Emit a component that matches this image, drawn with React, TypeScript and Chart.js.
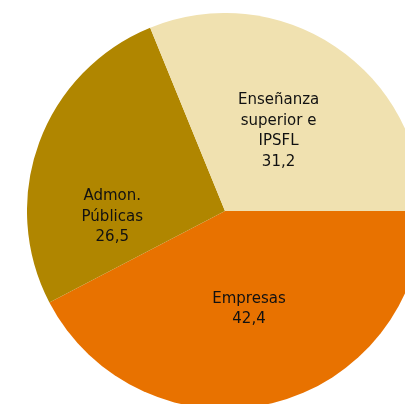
import React, { useEffect, useRef } from "react";
import { Chart, registerables } from "chart.js";

Chart.register(...registerables);

const categories: string[][] = [["Empresas"], ["Admon.", "Públicas"], ["Enseñanza", "superior e", "IPSFL"]];
const values: number[] = [42.4, 26.5, 31.2];
const valueLabels: string[] = ["42,4", "26,5", "31,2"];
const colors: string[] = ["#E87200", "#B08600", "#F0E1B0"];
const labelAngleShift: number[] = [0, -23, 0];
const labelRadiusFactor: number[] = [0.51, 0.57, 0.485];

const labelPlugin = {
  id: "sliceLabels",
  afterDatasetsDraw(chart: any) {
    const ctx = chart.ctx;
    const meta = chart.getDatasetMeta(0);
    ctx.save();
    ctx.font = "15px 'DejaVu Sans'";
    ctx.fillStyle = "#111111";
    ctx.textAlign = "center";
    ctx.textBaseline = "middle";
    const lineH = 20.5;
    meta.data.forEach((arc: any, i: number) => {
      const p = arc.getProps(["x", "y", "startAngle", "endAngle", "outerRadius"], true);
      const mid = (p.startAngle + p.endAngle) / 2 + (labelAngleShift[i] * Math.PI) / 180;
      const r = p.outerRadius * labelRadiusFactor[i];
      const cx = p.x + Math.cos(mid) * r;
      const cy = p.y + Math.sin(mid) * r;
      const lines = [...categories[i], valueLabels[i]];
      const top = cy - ((lines.length - 1) * lineH) / 2;
      lines.forEach((t, k) => ctx.fillText(t, cx, top + k * lineH));
    });
    ctx.restore();
  },
};

export default function App() {
  const ref = useRef<HTMLCanvasElement | null>(null);
  useEffect(() => {
    if (!ref.current) return;
    const chart = new Chart(ref.current, {
      type: "pie",
      data: {
        labels: categories.map((c) => c.join(" ")),
        datasets: [
          {
            data: values,
            backgroundColor: colors,
            borderWidth: 0,
          },
        ],
      },
      options: {
        responsive: false,
        animation: false,
        rotation: 90,
        layout: { padding: 0 },
        plugins: { legend: { display: false }, tooltip: { enabled: false } },
      },
      plugins: [labelPlugin],
    });
    return () => chart.destroy();
  }, []);
  return (
    <div style={{ position: "fixed", left: 0, top: 0, width: 405, height: 404, overflow: "hidden", background: "#fff" }}>
      <canvas ref={ref} width={396} height={396} style={{ position: "absolute", left: 27, top: 13, width: 396, height: 396 }} />
    </div>
  );
}
